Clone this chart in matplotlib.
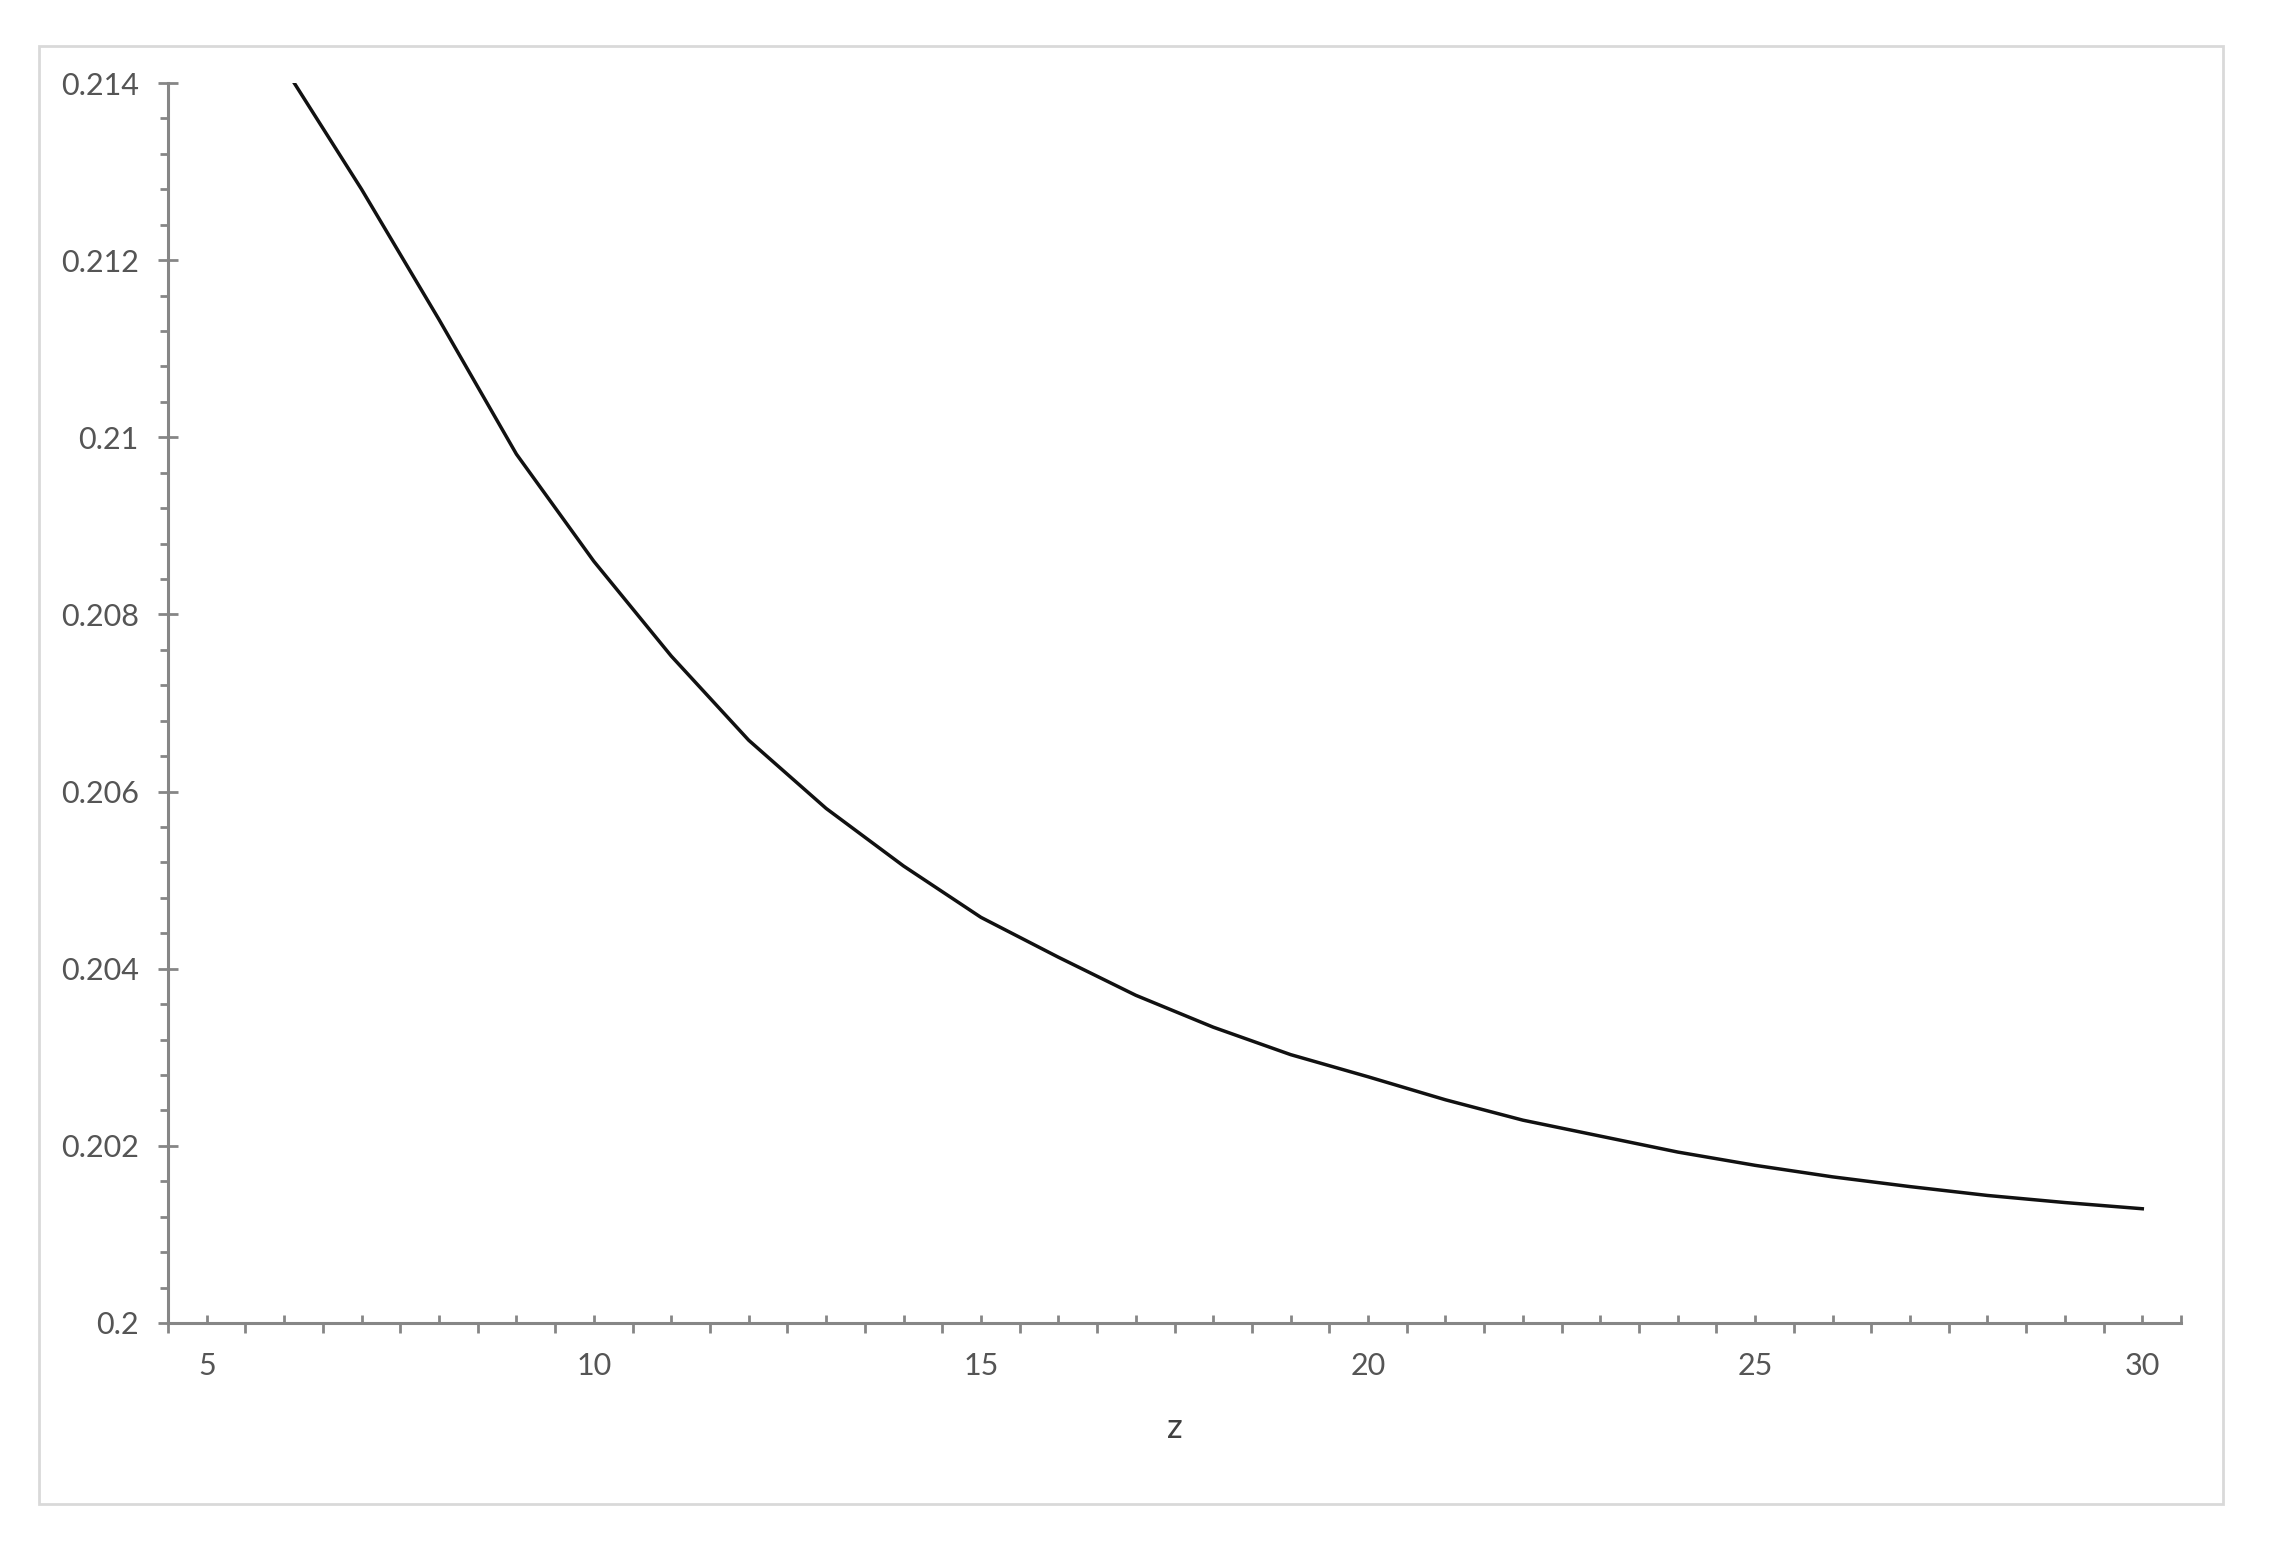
import matplotlib
matplotlib.use("Agg")
import matplotlib.pyplot as plt
from matplotlib.patches import Rectangle
import numpy as np

# Data
z_values = [6, 7, 8, 9, 10, 11, 12, 13, 14, 15, 16, 17, 18, 19, 20,
            21, 22, 23, 24, 25, 26, 27, 28, 29, 30]
y_values = [0.21418, 0.21280, 0.21133, 0.20981, 0.20860, 0.20753, 0.20658,
            0.20581, 0.20516, 0.20458, 0.20413, 0.20370, 0.20334, 0.20303,
            0.20278, 0.20252, 0.20229, 0.20211, 0.20193, 0.20178, 0.20165,
            0.20154, 0.20144, 0.20136, 0.20129]
x_label_values = [5, 10, 15, 20, 25, 30]
y_tick_values = [0.200, 0.202, 0.204, 0.206, 0.208, 0.210, 0.212, 0.214]
y_tick_labels = ["0.2", "0.202", "0.204", "0.206", "0.208", "0.21", "0.212", "0.214"]
x_axis_title = "z"

plt.rcParams['font.family'] = ['Lato', 'DejaVu Sans']

W, H = 2274, 1555
fig = plt.figure(figsize=(W / 100, H / 100), dpi=100)
fig.patch.set_facecolor("white")

# outer chart border
fig.patches.append(Rectangle((39 / W, 1 - 1504 / H), (2223 - 39) / W, (1504 - 46) / H,
                             transform=fig.transFigure, fill=False,
                             edgecolor="#d9d9d9", linewidth=2.0))

ax = fig.add_axes([168 / W, 1 - 1323 / H, (2181 - 168) / W, (1323 - 83) / H])
ax.plot(z_values, y_values, color="#111111", linewidth=2.5, solid_joinstyle="miter")

ax.set_xlim(4.5, 30.5)
ax.set_ylim(0.200, 0.214)

for s in ["top", "right"]:
    ax.spines[s].set_visible(False)
axis_col = "#868686"
for s in ["left", "bottom"]:
    ax.spines[s].set_color(axis_col)
    ax.spines[s].set_linewidth(2.2)

# x ticks: integers point inward, half-integers outward
major_x = list(range(5, 31)) + [30.5]
ax.set_xticks(major_x)
ax.set_xticklabels([str(v) if v in x_label_values else "" for v in major_x])
ax.set_xticks(np.arange(4.5, 30.51, 1.0), minor=True)
ax.tick_params(axis="x", which="major", direction="in", length=5.5, width=2.0,
               color=axis_col, labelsize=22, labelcolor="#555555", pad=21)
ax.tick_params(axis="x", which="minor", direction="out", length=7.5, width=2.0,
               color=axis_col)

# y ticks
ax.set_yticks(y_tick_values)
ax.set_yticklabels(y_tick_labels)
ax.set_yticks(np.arange(0.200, 0.21401, 0.0004), minor=True)
ax.tick_params(axis="y", which="major", direction="inout", length=14, width=2.0,
               color=axis_col, labelsize=22, labelcolor="#555555", pad=14)
ax.tick_params(axis="y", which="minor", direction="out", length=5.5, width=2.0,
               color=axis_col)

ax.set_xlabel(x_axis_title, fontsize=25, color="#404040", labelpad=23)

fig.savefig("out.png", dpi=100, facecolor="white")
